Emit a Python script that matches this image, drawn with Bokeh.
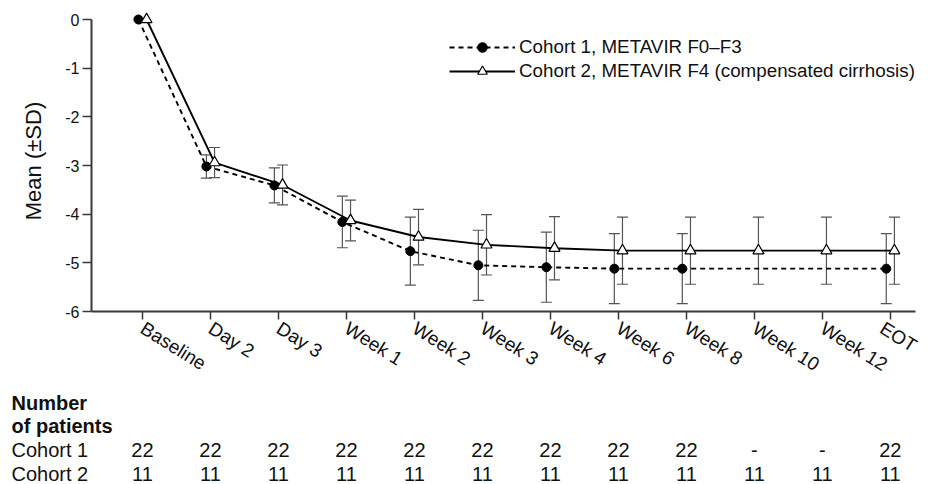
from bokeh.plotting import figure
from bokeh.models import (ColumnDataSource, FixedTicker, Range1d, Whisker, TeeHead,
                          Legend, LegendItem)
from bokeh.embed import file_html
from bokeh.resources import INLINE
from bokeh.core.properties import value

# ---------------- data ----------------
categories = ["Baseline", "Day 2", "Day 3", "Week 1", "Week 2", "Week 3", "Week 4",
              "Week 6", "Week 8", "Week 10", "Week 12", "EOT"]
cohort1_mean = [0.0, -3.02, -3.41, -4.16, -4.76, -5.05, -5.09, -5.12, -5.12, None, None, -5.12]
cohort1_sd = [0.0, 0.24, 0.36, 0.53, 0.70, 0.72, 0.72, 0.72, 0.72, None, None, 0.72]
cohort2_mean = [0.0, -2.94, -3.40, -4.13, -4.47, -4.63, -4.70, -4.75, -4.75, -4.75, -4.75, -4.75]
cohort2_sd = [0.0, 0.31, 0.41, 0.42, 0.57, 0.62, 0.65, 0.69, 0.69, 0.69, 0.69, 0.69]
cohort1_n = [22, 22, 22, 22, 22, 22, 22, 22, 22, None, None, 22]
cohort2_n = [11, 11, 11, 11, 11, 11, 11, 11, 11, 11, 11, 11]
y_ticks = [0, -1, -2, -3, -4, -5, -6]
series_labels = ["Cohort 1, METAVIR F0\u2013F3",
                 "Cohort 2, METAVIR F4 (compensated cirrhosis)"]
table_title = ["Number", "of patients"]
table_rows = ["Cohort 1", "Cohort 2"]
y_label = "Mean (\u00b1SD)"

FONT = "Liberation Sans"
INK = "#111111"
AXIS = "#3a3a3a"
ERR = "#555555"

W = 920
LEFT, RIGHT = 91, 5
X_START, X_END = -0.75, 11.37
PX_PER_UNIT = (W - LEFT - RIGHT) / (X_END - X_START)


def build(mean, sd, offset):
    pts = dict(x=[], y=[])
    err = dict(x=[], lower=[], upper=[])
    for i, (m, s) in enumerate(zip(mean, sd)):
        if m is None:
            continue
        pts["x"].append(i + offset)
        pts["y"].append(m)
        if s:
            err["x"].append(i + offset)
            err["lower"].append(m - s)
            err["upper"].append(m + s)
    return ColumnDataSource(pts), ColumnDataSource(err)


src1, err1 = build(cohort1_mean, cohort1_sd, -0.06)
src2, err2 = build(cohort2_mean, cohort2_sd, 0.06)

p = figure(width=W, height=391,
           x_range=Range1d(X_START, X_END), y_range=Range1d(-6, 0.185),
           output_backend="svg", toolbar_location=None,
           min_border_left=LEFT, min_border_right=RIGHT, min_border_top=10,
           min_border_bottom=80)
p.outline_line_color = None
p.grid.visible = False
p.background_fill_color = "white"

for e in (err1, err2):
    p.add_layout(Whisker(base="x", lower="lower", upper="upper", source=e,
                         line_color=ERR, line_width=1.2,
                         upper_head=TeeHead(size=11, line_color=ERR, line_width=1.2),
                         lower_head=TeeHead(size=11, line_color=ERR, line_width=1.2)))

l1 = p.line("x", "y", source=src1, line_color="black", line_width=1.9, line_dash="5 4")
m1 = p.scatter("x", "y", source=src1, marker="circle", size=9,
               fill_color="black", line_color="black")
l2 = p.line("x", "y", source=src2, line_color="black", line_width=1.9)
m2 = p.scatter("x", "y", source=src2, marker="triangle", size=11,
               fill_color="white", line_color="black", line_width=1.2)

legend = Legend(items=[LegendItem(label=series_labels[0], renderers=[l1, m1]),
                       LegendItem(label=series_labels[1], renderers=[l2, m2])],
                location=(358, 228), padding=0, margin=0, spacing=0,
                glyph_width=66, glyph_height=24, label_height=24, label_standoff=4,
                border_line_color=None, background_fill_alpha=0,
                label_text_font=FONT, label_text_font_size="18.8px",
                label_text_color=INK)
p.add_layout(legend)

# y axis
yax = p.yaxis[0]
yax.ticker = FixedTicker(ticks=y_ticks)
yax.major_label_overrides = {t: str(t) for t in y_ticks}
yax.bounds = (-6, 0)
yax.axis_label = y_label
yax.axis_label_text_font = FONT
yax.axis_label_text_font_size = "22px"
yax.axis_label_text_font_style = "normal"
yax.axis_label_text_color = INK
yax.axis_label_standoff = 16
yax.major_label_text_font = FONT
yax.major_label_text_font_size = "16px"
yax.major_label_text_color = INK
yax.major_label_standoff = 3
yax.major_tick_out = 9
yax.major_tick_in = 0
yax.minor_tick_line_color = None
yax.axis_line_width = 2
yax.axis_line_color = AXIS
yax.major_tick_line_color = AXIS
yax.major_tick_line_width = 1.5

# x axis
xax = p.xaxis[0]
xax.ticker = FixedTicker(ticks=list(range(len(categories))))
xax.major_label_overrides = {i: c for i, c in enumerate(categories)}
xax.major_label_orientation = -0.56
xax.major_label_text_font = FONT
xax.major_label_text_font_size = "19px"
xax.major_label_text_color = INK
xax.major_label_standoff = 7
xax.major_tick_out = 8
xax.major_tick_in = 0
xax.minor_tick_line_color = None
xax.axis_line_width = 2
xax.axis_line_color = AXIS
xax.major_tick_line_color = AXIS
xax.major_tick_line_width = 1.5

# ---------------- number-of-patients table (separate root, full-width frame) ----------------
TH = 93
t = figure(width=W, height=TH,
           x_range=Range1d(X_START - LEFT / PX_PER_UNIT, X_END + RIGHT / PX_PER_UNIT),
           y_range=Range1d(TH, 0),
           output_backend="svg", toolbar_location=None,
           x_axis_location=None, y_axis_location=None, min_border=0)
t.outline_line_color = None
t.grid.visible = False

row_y = [11, 34, 58, 82]
left_x = X_START - (LEFT - 11) / PX_PER_UNIT

t.text(x=[left_x] * 2, y=row_y[:2], text=table_title,
       text_font=value(FONT), text_font_size="20px", text_font_style="bold",
       text_align="left", text_baseline="middle", text_color=INK)
t.text(x=[left_x] * 2, y=row_y[2:], text=table_rows,
       text_font=value(FONT), text_font_size="20px",
       text_align="left", text_baseline="middle", text_color=INK)

n_x = list(range(len(categories)))
t.text(x=n_x, y=[row_y[2]] * len(n_x),
       text=[str(n) if n is not None else "-" for n in cohort1_n],
       text_font=value(FONT), text_font_size="20px",
       text_align="center", text_baseline="middle", text_color=INK)
t.text(x=n_x, y=[row_y[3]] * len(n_x),
       text=[str(n) if n is not None else "-" for n in cohort2_n],
       text_font=value(FONT), text_font_size="20px",
       text_align="center", text_baseline="middle", text_color=INK)

open("out.html", "w").write(file_html([p, t], INLINE))
